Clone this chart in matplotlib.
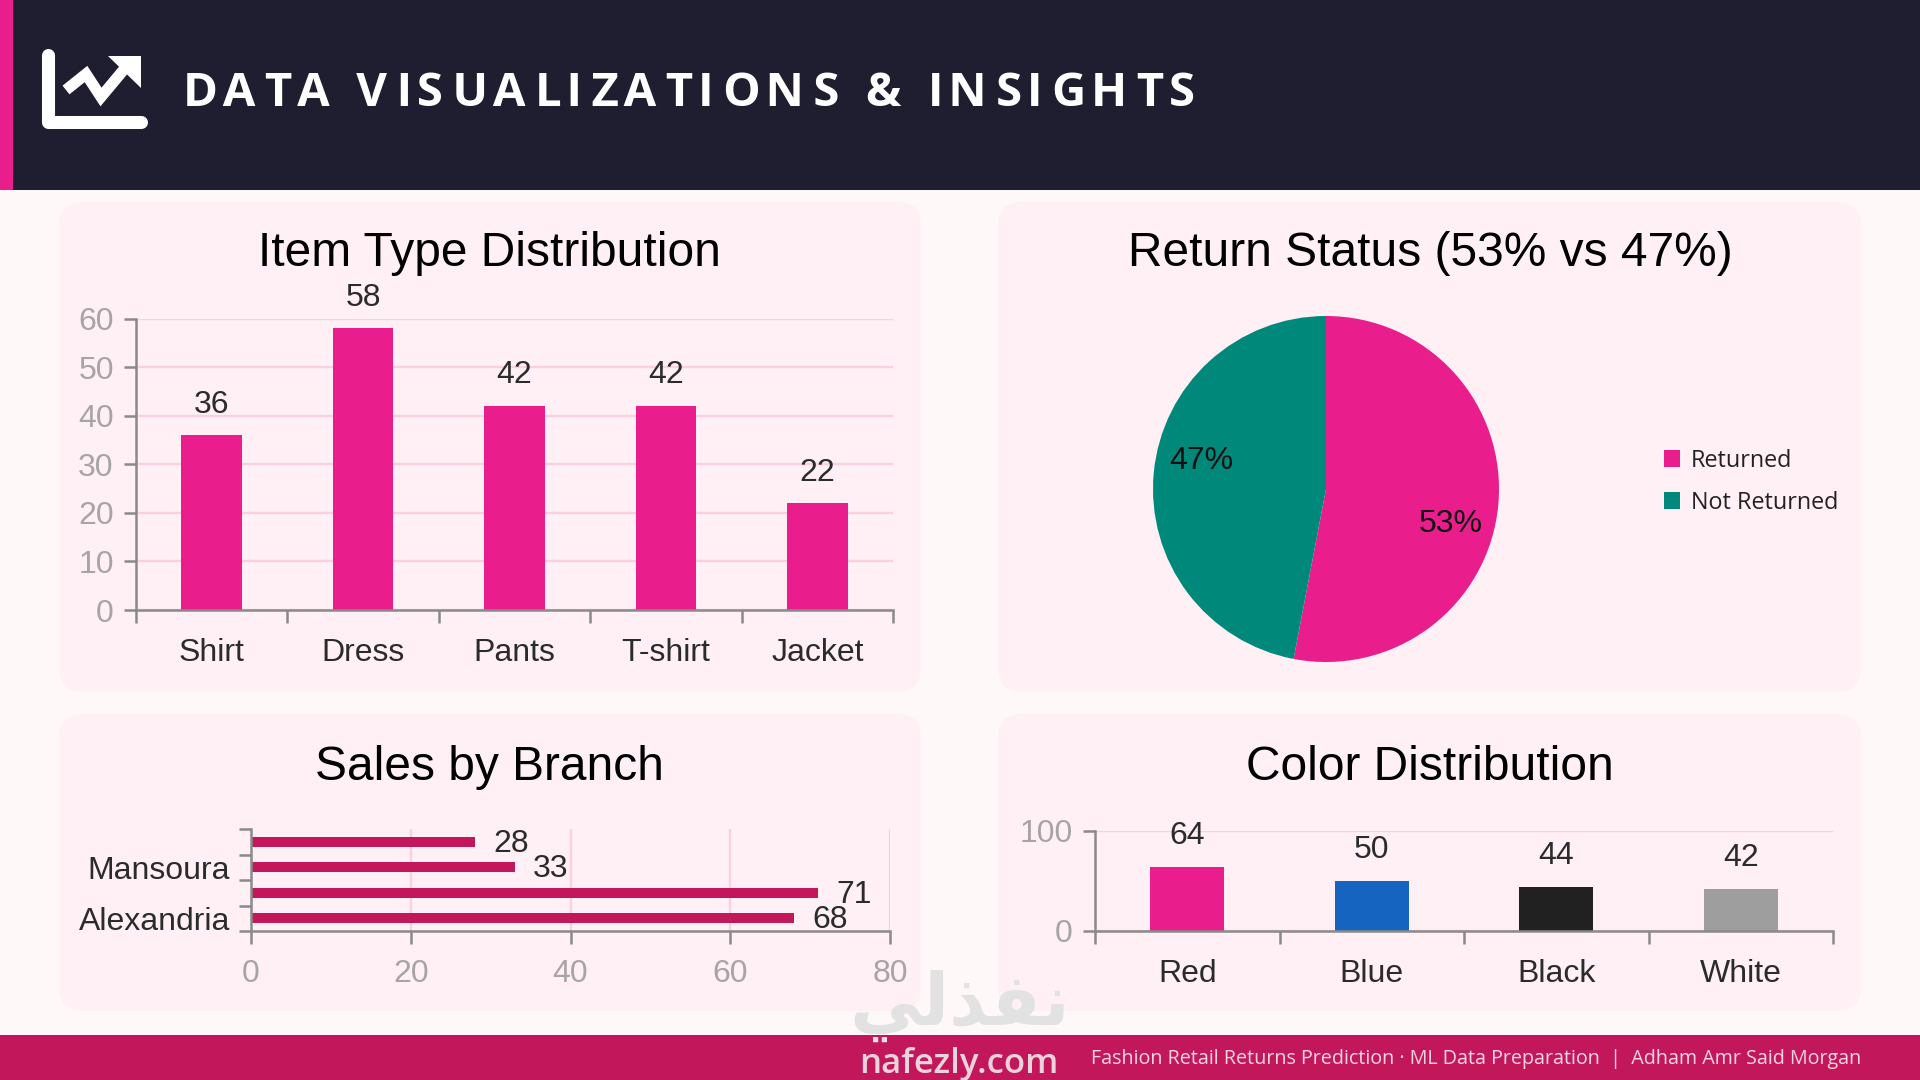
import matplotlib
matplotlib.use("Agg")
import matplotlib.pyplot as plt
from matplotlib.patches import FancyBboxPatch, Rectangle, Polygon
from matplotlib.lines import Line2D

# Chart data
item_types = ["Shirt", "Dress", "Pants", "T-shirt", "Jacket"]
item_counts = [36, 58, 42, 42, 22]
return_labels = ["Returned", "Not Returned"]
return_shares = [53, 47]
branch_labels = ["Alexandria", "", "Mansoura", ""]
branch_sales = [68, 71, 33, 28]
color_names = ["Red", "Blue", "Black", "White"]
color_counts = [64, 50, 44, 42]
color_bars = ["#E91E8C", "#1565C0", "#212121", "#9E9E9E"]

PINK = "#E91E8C"
TEAL = "#00897B"
CRIMSON = "#C2185B"
NAVY = "#1E1E30"
AXIS_GRAY = "#8A8A8A"
TICK_GRAY = "#A8A4A6"
GRID_PINK = "#FBCFDF"
LABEL_DARK = "#2B2B2B"

W, H = 1920, 1080
plt.rcParams["font.family"] = ["Liberation Sans", "DejaVu Sans"]

fig = plt.figure(figsize=(W / 100, H / 100), dpi=100, facecolor="#FFF8F9")


# Makes axes from pixel box given from the top left corner of the picture
def px_axes(x0, y0, x1, y1):
    return fig.add_axes([x0 / W, 1 - y1 / H, (x1 - x0) / W, (y1 - y0) / H])


# Full size background layer: header, footer, cards, icon
bg = fig.add_axes([0, 0, 1, 1])
bg.set_xlim(0, W)
bg.set_ylim(H, 0)
bg.axis("off")

bg.add_patch(Rectangle((0, 0), W, 190, color=NAVY, lw=0))
bg.add_patch(Rectangle((0, 0), 13, 190, color=PINK, lw=0))
bg.add_patch(Rectangle((0, 1035), W, 45, color=CRIMSON, lw=0))

for x0, y0, x1, y1 in [(59, 202, 921, 692), (998, 202, 1861, 692),
                       (59, 714, 921, 1011), (998, 714, 1861, 1011)]:
    bg.add_patch(FancyBboxPatch((x0 + 24, y0 + 24), x1 - x0 - 48, y1 - y0 - 48,
                                boxstyle="round,pad=24,rounding_size=24",
                                fc="#FFF0F5", ec="none"))

# Chart icon in the header
bg.add_line(Line2D([47.5, 47.5, 141], [55, 121.5, 121.5], color="white", lw=9.4,
                   solid_joinstyle="round", solid_capstyle="round"))
bg.add_line(Line2D([66, 86, 101, 126], [90, 74, 97, 67], color="white", lw=8,
                   solid_joinstyle="miter", solid_capstyle="butt"))
bg.add_patch(Polygon([(108, 56), (141, 56), (141, 88)], color="white", lw=0))

# Header title, hair spaces stand in for the letter spacing
header = "DATA VISUALIZATIONS & INSIGHTS"
spaced = ""
for i, ch in enumerate(header):
    spaced += ch + ("\u200a\u200a" if i % 2 else "\u200a")
bg.text(183, 94, spaced.rstrip("\u200a"), color="white", fontsize=34, fontweight="bold",
        family=["Open Sans", "DejaVu Sans"], ha="left", va="center")

# Panel titles
for cx, cy, title in [(489, 254, "Item Type Distribution"), (1430, 254, "Return Status (53% vs 47%)"),
                      (489, 767, "Sales by Branch"), (1430, 767, "Color Distribution")]:
    bg.text(cx, cy, title, color="black", fontsize=34.5, ha="center", va="center")

# Footer text and watermark
bg.text(1861, 1059, "Fashion Retail Returns Prediction \u00b7 ML Data Preparation  |  Adham Amr Said Morgan",
        color="#F6D5E2", fontsize=14.2, family=["Open Sans", "DejaVu Sans"], ha="right", va="center")
bg.text(959, 1064, "nafezly.com", color="#EBD3DC", fontsize=25, fontweight="semibold",
        family=["Open Sans", "DejaVu Sans"], ha="center", va="center")
bg.text(960, 1006, "\ufef2\ufedf\ufeac\ufed4\ufee7", color="#E2E2E2", fontsize=52,
        fontweight="bold", family="DejaVu Sans", ha="center", va="center")


# Shared axis look for the three bar charts
def style_axes(ax):
    ax.set_facecolor("none")
    ax.spines["top"].set_visible(False)
    ax.spines["right"].set_visible(False)
    for side in ["left", "bottom"]:
        ax.spines[side].set_color(AXIS_GRAY)
        ax.spines[side].set_linewidth(1.8)
    ax.set_axisbelow(True)
    ax.tick_params(which="both", color=AXIS_GRAY, width=1.8, length=9)


def column_chart(ax, names, values, colors, ymax, yticks):
    style_axes(ax)
    xs = list(range(len(names)))
    ax.bar(xs, values, width=0.4, color=colors)
    ax.set_xlim(-0.5, len(names) - 0.5)
    ax.set_ylim(0, ymax)
    ax.set_yticks(yticks)
    ax.set_xticks(xs)
    ax.set_xticklabels(names)
    ax.set_xticks([i - 0.5 for i in range(len(names) + 1)], minor=True)
    ax.tick_params(axis="x", which="major", length=0, pad=20.5, labelsize=23, labelcolor=LABEL_DARK)
    ax.tick_params(axis="y", pad=7, labelsize=23, labelcolor=TICK_GRAY)
    ax.grid(axis="y", color=GRID_PINK, lw=1.7)
    for x, v in zip(xs, values):
        ax.annotate(str(v), (x, v), xytext=(0, 22), textcoords="offset points", ha="center",
                    va="center", fontsize=23, color=LABEL_DARK, annotation_clip=False)


# Item type chart
ax1 = px_axes(136, 318.5, 893, 610)
column_chart(ax1, item_types, item_counts, PINK, 60, range(0, 61, 10))

# Return status pie
ax2 = px_axes(1126, 289, 1526, 689)
wedges, _, pct_texts = ax2.pie(return_shares, colors=[PINK, TEAL], startangle=90, counterclock=False,
                               radius=1, autopct="%.0f%%", textprops={"fontsize": 23, "color": "#111111"})
ax2.set_xlim(-200 / 173, 200 / 173)
ax2.set_ylim(-200 / 173, 200 / 173)
pct_texts[0].set_position((0.72, -0.2))
pct_texts[1].set_position((-0.72, 0.16))
fig.legend(wedges, return_labels, loc="upper left", bbox_to_anchor=(1652 / W, 1 - 437 / H), frameon=False,
           prop={"family": ["Open Sans", "DejaVu Sans"], "size": 16.8}, labelcolor="#222222",
           handlelength=0.72, handleheight=0.72, handletextpad=0.45, labelspacing=0.78, borderpad=0)

# Sales by branch chart
ax3 = px_axes(251, 829, 890, 931)
style_axes(ax3)
ys = list(range(len(branch_sales)))
ax3.barh(ys, branch_sales, height=0.4, color=CRIMSON)
ax3.set_xlim(0, 80)
ax3.set_ylim(-0.5, len(branch_sales) - 0.5)
ax3.set_xticks(range(0, 81, 20))
ax3.set_yticks(ys)
ax3.set_yticklabels(branch_labels)
ax3.set_yticks([i - 0.5 for i in range(len(branch_sales) + 1)], minor=True)
ax3.tick_params(axis="y", which="major", length=0, pad=15, labelsize=23, labelcolor=LABEL_DARK)
ax3.tick_params(axis="x", pad=11, labelsize=23, labelcolor=TICK_GRAY)
ax3.grid(axis="x", color=GRID_PINK, lw=1.7)
for y, v in zip(ys, branch_sales):
    ax3.annotate(str(v), (v, y), xytext=(26, -1.5), textcoords="offset points", ha="center",
                 va="center", fontsize=23, color=LABEL_DARK, annotation_clip=False)

# Color distribution chart
ax4 = px_axes(1095, 831, 1833, 931)
column_chart(ax4, color_names, color_counts, color_bars, 100, [0, 100])

fig.savefig("out.png", dpi=100, facecolor=fig.get_facecolor())
